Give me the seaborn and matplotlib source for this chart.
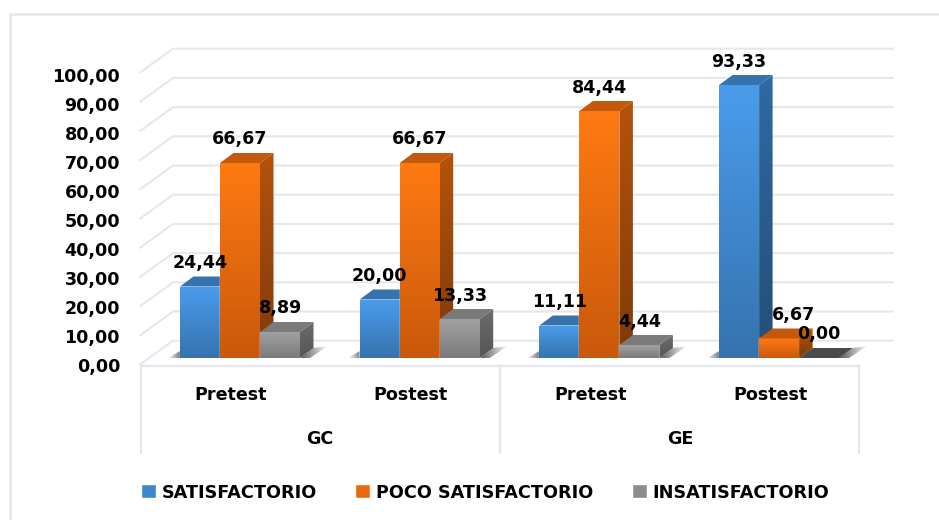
import numpy as np
import pandas as pd
import seaborn as sns
import matplotlib.pyplot as plt
from matplotlib.colors import LinearSegmentedColormap
from matplotlib.patches import Polygon

# values
grupos = ["GC", "GE"]
pruebas = ["Pretest", "Postest", "Pretest", "Postest"]
categorias = ["GC Pretest", "GC Postest", "GE Pretest", "GE Postest"]
satisfactorio = [24.44, 20.00, 11.11, 93.33]
poco_satisfactorio = [66.67, 66.67, 84.44, 6.67]
insatisfactorio = [8.89, 13.33, 4.44, 0.00]
niveles = ["SATISFACTORIO", "POCO SATISFACTORIO", "INSATISFACTORIO"]
yticks = [0, 10, 20, 30, 40, 50, 60, 70, 80, 90, 100]

colores = ["#3F87CC", "#E96A0E", "#8C8C8C"]
frente = [("#4A9CEB", "#3573AF"), ("#FF7A12", "#C9590B"), ("#A2A2A2", "#7A7A7A")]
lado = [("#2F6AA3", "#234E78"), ("#B5530B", "#7E3A08"), ("#6C6C6C", "#555555")]
arriba = ["#3672AD", "#C2590C", "#7A7A7A"]
GRID = "#E4E7EE"

W, H = 939, 520
X0, SX = 240.0, 179.7   # pixel of first category, pixels per category
Y0, SY = 358.0, 2.925   # pixel of value 0 on the bars, pixels per unit


def px(p):
    return (p - X0) / SX


def py(p):
    return (Y0 - p) / SY


def gradient(ax, verts, c1, c2, z, horizontal=False):
    # fill a polygon with a linear gradient through a clipped image
    cmap = LinearSegmentedColormap.from_list("g", [c1, c2])
    xs = [v[0] for v in verts]
    ys = [v[1] for v in verts]
    g = np.linspace(0, 1, 128)
    g = g.reshape(1, -1) if horizontal else g.reshape(-1, 1)
    im = ax.imshow(g, cmap=cmap, extent=(min(xs), max(xs), min(ys), max(ys)),
                   aspect="auto", zorder=z, interpolation="bilinear")
    im.set_clip_path(Polygon(verts, closed=True, transform=ax.transData))
    return im


df = pd.DataFrame({
    "categoria": categorias * 3,
    "nivel": np.repeat(niveles, 4),
    "valor": satisfactorio + poco_satisfactorio + insatisfactorio,
})

sns.set_style("white")
plt.rcParams["font.family"] = "DejaVu Sans"
plt.rcParams["font.weight"] = "bold"
plt.rcParams["text.color"] = "black"

fig = plt.figure(figsize=(W / 100, H / 100), dpi=100)
ax = fig.add_axes([0, 0, 1, 1])

sns.barplot(data=df, x="categoria", y="valor", hue="nivel", order=categorias,
            hue_order=niveles, palette=colores, saturation=1, width=120 / SX,
            gap=0, ax=ax)
ax.set_xlim(px(0), px(W))
ax.set_ylim(py(H), py(0))
ax.set_autoscale_on(False)
ax.set_axis_off()

dx = 13.5 / SX
dy = 10 / SY

# walls and floor
for v in yticks:
    front = 365 - 2.92 * v
    back = 340.7 - 2.92 * v
    ax.plot([px(139.5), px(173), px(894)], [py(front), py(back), py(back)],
            color=GRID, lw=1.5, zorder=1, solid_capstyle="butt")
ax.plot([px(141), px(859)], [py(365.5), py(365.5)], color=GRID, lw=1.7, zorder=1)
for xl in [141, 500, 859]:
    ax.plot([px(xl), px(xl)], [py(365), py(452.5)], color=GRID, lw=1.7, zorder=1)

# chart frame, cut by the screenshot on the right and at the bottom
ax.plot([px(9.5), px(9.5), px(W)], [py(H), py(14), py(14)], color=GRID, lw=1.9, zorder=1)

# bars with depth, group by group
z = 3
for c in range(len(categorias)):
    left = ax.containers[0][c].get_x()
    right = ax.containers[-1][c].get_x() + ax.containers[-1][c].get_width()
    sombra_i = [(left - 12 / SX, 0), (left, 7 / SY), (left, 0)]
    gradient(ax, sombra_i, "#FFFFFF", "#7A7A7A", 2, horizontal=True)
    sombra_d = [(right, 0), (right + dx, dy), (right + 28 / SX, 12 / SY), (right + 10 / SX, 0)]
    gradient(ax, sombra_d, "#555555", "#FFFFFF", 2, horizontal=True)

    for n in range(len(niveles)):
        bar = ax.containers[n][c]
        x0 = bar.get_x()
        x1 = x0 + bar.get_width()
        h = bar.get_height()
        bar.set_zorder(z)
        if h > 0:
            gradient(ax, [(x0, 0), (x0, h), (x1, h), (x1, 0)], *frente[n], z + 0.1)
            gradient(ax, [(x1, 0), (x1, h), (x1 + dx, h + dy), (x1 + dx, dy)], *lado[n], z + 0.1)
        tope = arriba[n] if h > 0 else "#4A4A4A"
        ax.add_patch(Polygon([(x0, h), (x0 + dx, h + dy), (x1 + dx, h + dy), (x1, h)],
                             closed=True, facecolor=tope, edgecolor="none", zorder=z + 0.1))
        z += 1

        corr = 14 / SX if h == poco_satisfactorio[3] else 0
        ax.text((x0 + x1) / 2 + corr, h + 23.5 / SY, f"{h:.2f}".replace(".", ","),
                ha="center", va="center", fontsize=12.6, color="black", zorder=50)

# axis texts
for v in yticks:
    ax.text(px(120), py(367 - 2.9 * v), f"{v:.2f}".replace(".", ","), ha="right",
            va="center", fontsize=12.6, color="black", zorder=50)
for i, p in enumerate(pruebas):
    ax.text(i + px(231) - px(240), py(395), p, ha="center", va="center", fontsize=12.6,
            color="black", zorder=50)
for g, xc in zip(grupos, [320, 680]):
    ax.text(px(xc), py(439.5), g, ha="center", va="center", fontsize=12.6, color="black", zorder=50)

sns.move_legend(ax, "center", bbox_to_anchor=(px(485), py(492.5)),
                bbox_transform=ax.transData, ncol=3, frameon=False, title=None,
                fontsize=12.7, handlelength=0.85, handleheight=0.85, handletextpad=0.3,
                columnspacing=2.2, labelcolor="black")

fig.savefig("out.png", dpi=100)
